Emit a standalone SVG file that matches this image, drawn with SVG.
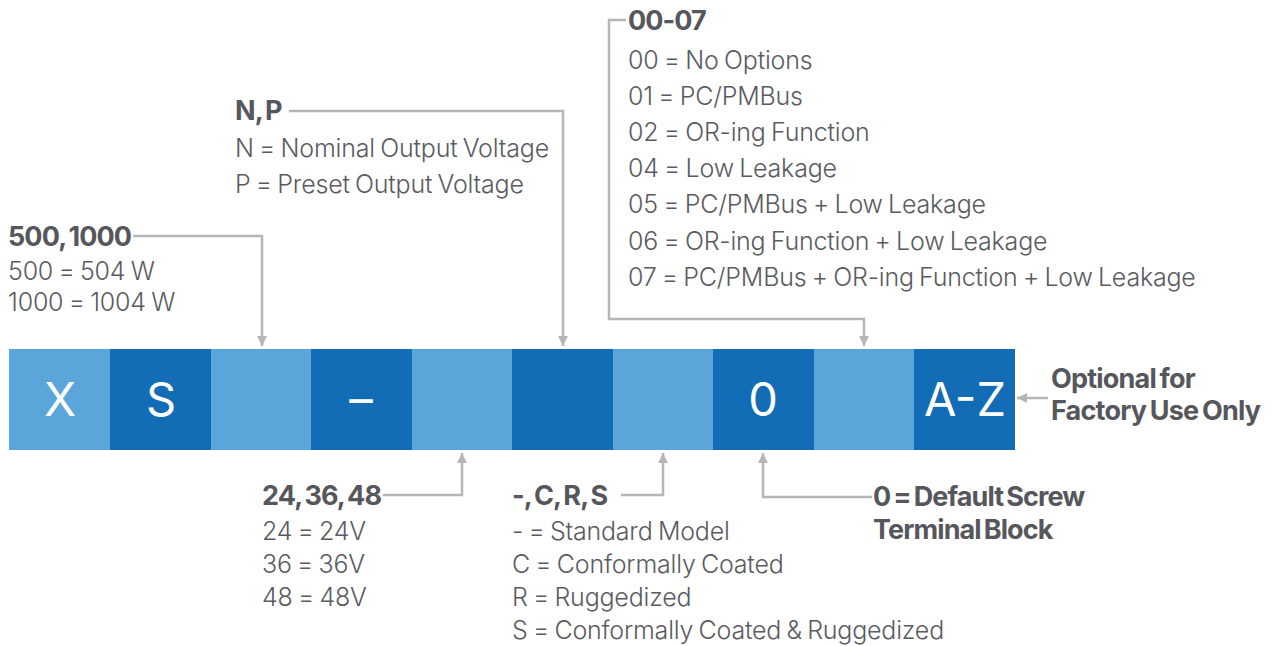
<svg xmlns="http://www.w3.org/2000/svg" width="1272" height="646" viewBox="0 0 1272 646">
<style>
.lt{fill:#5aa6da}
.dk{fill:#136db6}
.bx{font-family:Inter,"Noto Sans",sans-serif;font-size:47px;fill:#fff;text-anchor:middle}
.h{font-family:Inter,"Noto Sans",sans-serif;font-size:27px;font-weight:700;fill:#56575d;letter-spacing:-0.9px;word-spacing:-2.5px}
.t{font-family:Inter,"Noto Sans",sans-serif;font-size:25px;font-weight:300;fill:#5a5b61;letter-spacing:-0.2px;word-spacing:-1.5px}
.n{font-family:Inter,"Noto Sans",sans-serif;font-size:27px;font-weight:700;fill:#56575d;letter-spacing:-0.8px;word-spacing:-2px}
.c{fill:none;stroke:#b5b7b6;stroke-width:2.5}
</style>
<defs>
<marker id="ah" viewBox="0 0 10 10" refX="10" refY="5" markerWidth="4" markerHeight="4" orient="auto" markerUnits="strokeWidth">
<path d="M0,0 L10,5 L0,10 z" fill="#b5b7b6"/>
</marker>
</defs>
<g id="boxes">
<g id="box-x"><rect class="lt" x="9" y="349" width="101" height="101"/><text class="bx" x="60" y="416">X</text></g>
<g id="box-s"><rect class="dk" x="110" y="349" width="101" height="101"/><text class="bx" x="161" y="416">S</text></g>
<g id="box-power"><rect class="lt" x="211" y="349" width="100" height="101"/></g>
<g id="box-dash"><rect class="dk" x="311" y="349" width="101" height="101"/><text class="bx" x="361" y="416">–</text></g>
<g id="box-voltage"><rect class="lt" x="412" y="349" width="100" height="101"/></g>
<g id="box-np"><rect class="dk" x="512" y="349" width="101" height="101"/></g>
<g id="box-coat"><rect class="lt" x="613" y="349" width="100" height="101"/></g>
<g id="box-zero"><rect class="dk" x="713" y="349" width="101" height="101"/><text class="bx" x="763" y="416">0</text></g>
<g id="box-opt"><rect class="lt" x="814" y="349" width="100" height="101"/></g>
<g id="box-az"><rect class="dk" x="914" y="349" width="101" height="101"/><text class="bx" x="965" y="416">A-Z</text></g>
</g>
<g id="connectors">
<polyline class="c" points="133,236 262,236 262,346" marker-end="url(#ah)"/>
<polyline class="c" points="289,111 563,111 563,346" marker-end="url(#ah)"/>
<polyline class="c" points="626,20 609,20 609,319 864,319 864,346" marker-end="url(#ah)"/>
<polyline class="c" points="383,495 462,495 462,453" marker-end="url(#ah)"/>
<polyline class="c" points="621,495 663,495 663,453" marker-end="url(#ah)"/>
<polyline class="c" points="872,497 763,497 763,453" marker-end="url(#ah)"/>
<line class="c" x1="1048" y1="398" x2="1017" y2="398" marker-end="url(#ah)"/>
</g>
<g id="label-power">
<text class="h" x="8" y="246">500, 1000</text>
<text class="t" x="8" y="280">500 = 504 W</text>
<text class="t" x="8" y="311">1000 = 1004 W</text>
</g>
<g id="label-np">
<text class="h" x="235" y="120">N, P</text>
<text class="t" x="235" y="157">N = Nominal Output Voltage</text>
<text class="t" x="235" y="193">P = Preset Output Voltage</text>
</g>
<g id="label-options">
<text class="h" x="628" y="30">00-07</text>
<text class="t" x="628" y="69">00 = No Options</text>
<text class="t" x="628" y="105">01 = PC/PMBus</text>
<text class="t" x="628" y="141">02 = OR-ing Function</text>
<text class="t" x="628" y="177">04 = Low Leakage</text>
<text class="t" x="628" y="213">05 = PC/PMBus + Low Leakage</text>
<text class="t" x="628" y="250">06 = OR-ing Function + Low Leakage</text>
<text class="t" x="628" y="286">07 = PC/PMBus + OR-ing Function + Low Leakage</text>
</g>
<g id="label-voltage">
<text class="h" x="262" y="505">24, 36, 48</text>
<text class="t" x="262" y="540">24 = 24V</text>
<text class="t" x="262" y="573">36 = 36V</text>
<text class="t" x="262" y="606">48 = 48V</text>
</g>
<g id="label-coat">
<text class="h" x="512" y="505">-, C, R, S</text>
<text class="t" x="512" y="540">- = Standard Model</text>
<text class="t" x="512" y="573">C = Conformally Coated</text>
<text class="t" x="512" y="606">R = Ruggedized</text>
<text class="t" x="512" y="639">S = Conformally Coated &amp; Ruggedized</text>
</g>
<g id="label-terminal">
<text class="h" x="873" y="506">0 = Default Screw</text>
<text class="h" x="873" y="539">Terminal Block</text>
</g>
<g id="label-factory">
<text class="n" x="1051" y="388">Optional for</text>
<text class="n" x="1051" y="420">Factory Use Only</text>
</g>
</svg>
